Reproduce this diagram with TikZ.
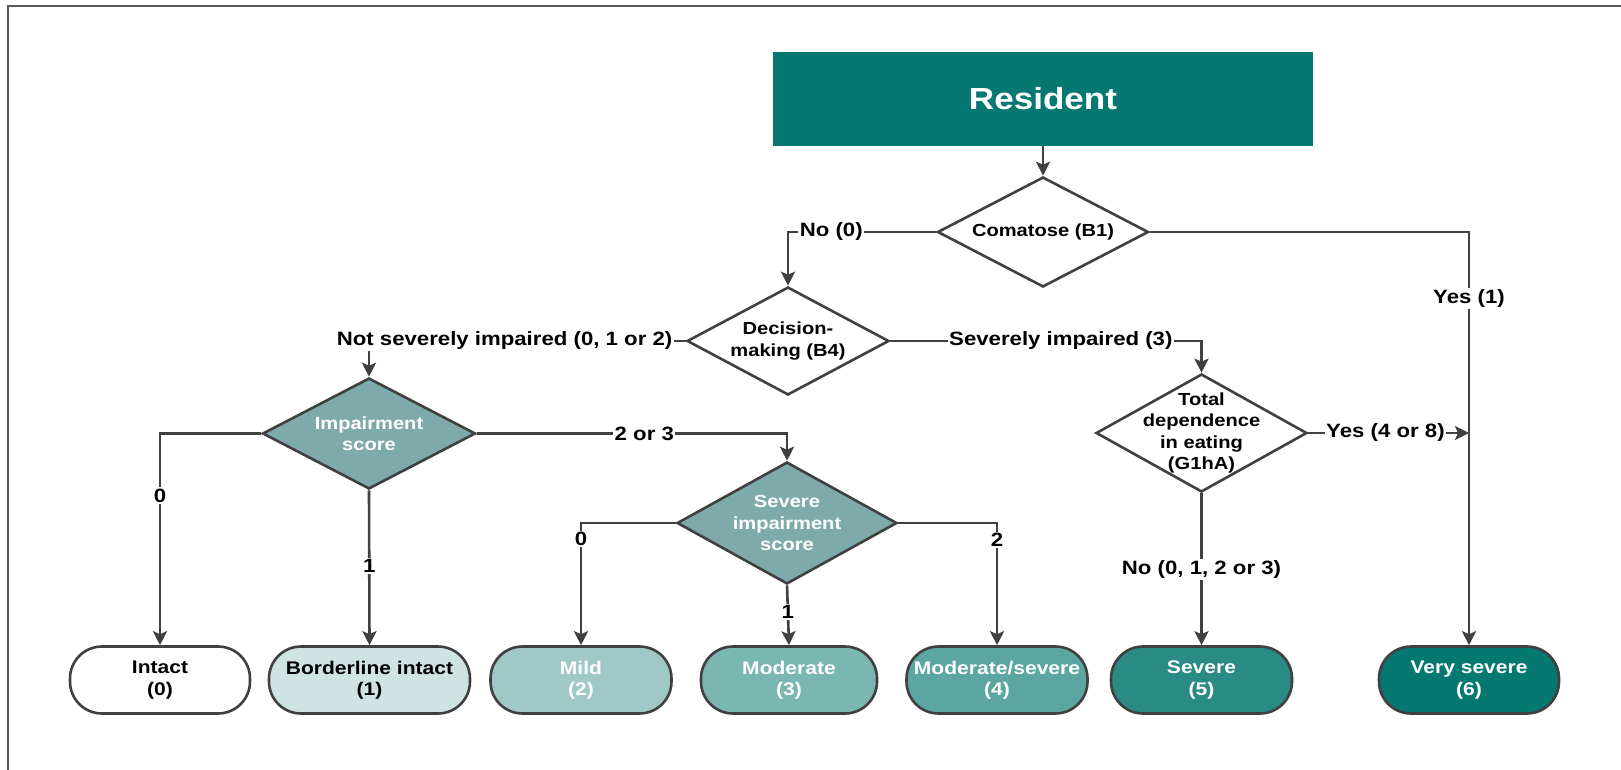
\documentclass[tikz,border=0pt]{standalone}
\usepackage{fontspec}
\setmainfont{Liberation Sans}[FakeStretch=1.15]
\usetikzlibrary{shapes.geometric,arrows.meta}
\definecolor{linec}{HTML}{404040}
\definecolor{framec}{HTML}{5A5A5A}
\definecolor{resc}{HTML}{057872}
\definecolor{diac}{HTML}{7FAAAC}
\definecolor{lvlone}{HTML}{CFE3E2}
\definecolor{lvltwo}{HTML}{9FC8C7}
\definecolor{lvlthree}{HTML}{7AB6B2}
\definecolor{lvlfour}{HTML}{5BA6A1}
\definecolor{lvlfive}{HTML}{2A8B85}
\definecolor{lvlsix}{HTML}{057872}
\begin{document}
\begin{tikzpicture}[x=1pt,y=-1pt,>={Stealth[length=14pt,width=14pt,inset=3pt]},
    conn/.style={->,draw=linec,line width=2.6pt},
    lab/.style={fill=white,inner sep=1.5pt,text=black,font=\bfseries\fontsize{19.3}{21}\selectfont},
    decide/.style={diamond,draw=linec,line width=2.6pt,inner sep=0pt,fill=white},
    dtext/.style={align=center,text=black,font=\bfseries\fontsize{17.5}{21.3}\selectfont},
    result/.style={rectangle,rounded corners=32pt,draw=linec,line width=2.6pt,
      minimum width=181pt,minimum height=67pt,align=center,text=white,
      font=\bfseries\fontsize{18.3}{21.3}\selectfont}]
    \useasboundingbox (0,0) rectangle (1621,770);
    % frame
    \draw[framec,line width=2pt] (1621,6) -- (8,6) -- (8,770);
    % top
    \node[fill=resc,minimum width=540pt,minimum height=94pt,text=white,
      font=\bfseries\fontsize{30.5}{34}\selectfont] (res) at (1043,99) {Resident};
    \node[decide,minimum width=211pt,minimum height=110pt,
      label={[dtext]center:Comatose (B1)}] (coma) at (1043,232) {};
    \node[decide,minimum width=202pt,minimum height=108pt,
      label={[dtext]center:{Decision-\\making (B4)}}] (dec) at (788,341) {};
    \node[decide,fill=diac,minimum width=213pt,minimum height=111pt,
      label={[dtext,text=white]center:{Impairment\\score}}] (imp) at (369,433.5) {};
    \node[decide,fill=diac,minimum width=220pt,minimum height=122pt,
      label={[dtext,text=white]center:{Severe\\impairment\\score}}] (sev) at (787,523) {};
    \node[decide,minimum width=211pt,minimum height=118pt,
      label={[dtext]center:{Total\\dependence\\in eating\\(G1hA)}}] (tot) at (1201.5,433) {};
    % outcomes
    \node[result,fill=white,text=black,minimum width=180pt] (intact) at (160,680) {Intact\\(0)};
    \node[result,fill=lvlone,text=black,minimum width=201pt] (bord) at (369.5,680) {Borderline intact\\(1)};
    \node[result,fill=lvltwo] (mild) at (581,680) {Mild\\(2)};
    \node[result,fill=lvlthree,minimum width=176pt] (mod) at (789,680) {Moderate\\(3)};
    \node[result,fill=lvlfour] (modsev) at (997,680) {Moderate/severe\\(4)};
    \node[result,fill=lvlfive] (sevr) at (1201.5,680) {Severe\\(5)};
    \node[result,fill=lvlsix,minimum width=180pt] (vsev) at (1469,680) {Very severe\\(6)};
    \coordinate (ymeet) at (vsev.north |- tot.east);
    % connectors
    \draw[conn] (res) -- (coma);
    \draw[conn] (coma.west) -| node[lab,pos=0.354] {No (0)} (dec.north);
    \draw[conn] (coma.east) -| node[lab,pos=0.58] {Yes (1)} (vsev.north);
    \draw[conn] (dec.west) -| node[lab,pos=0.286] {Not severely impaired (0, 1 or 2)} (imp.north);
    \draw[conn] (dec.east) -| node[lab,pos=0.274] {Severely impaired (3)} (tot.north);
    \draw[conn] (imp.west) -| node[lab,pos=0.647] {0} (intact.north);
    \draw[conn] (imp.south) -- node[lab,pos=0.49] {1} (bord.north);
    \draw[conn] (imp.east) -| node[lab,pos=0.27] {2 or 3} (sev.north);
    \draw[conn] (sev.west) -| node[lab,pos=0.565] {0} (mild.north);
    \draw[conn] (sev.south) -- node[lab,pos=0.45] {1} (mod.north);
    \draw[conn] (sev.east) -| node[lab,pos=0.57] {2} (modsev.north);
    \draw[conn] (tot.east) -- node[lab,pos=0.48] {Yes (4 or 8)} (ymeet);
    \draw[conn] (tot.south) -- node[lab,pos=0.5] {No (0, 1, 2 or 3)} (sevr.north);
\end{tikzpicture}
\end{document}
